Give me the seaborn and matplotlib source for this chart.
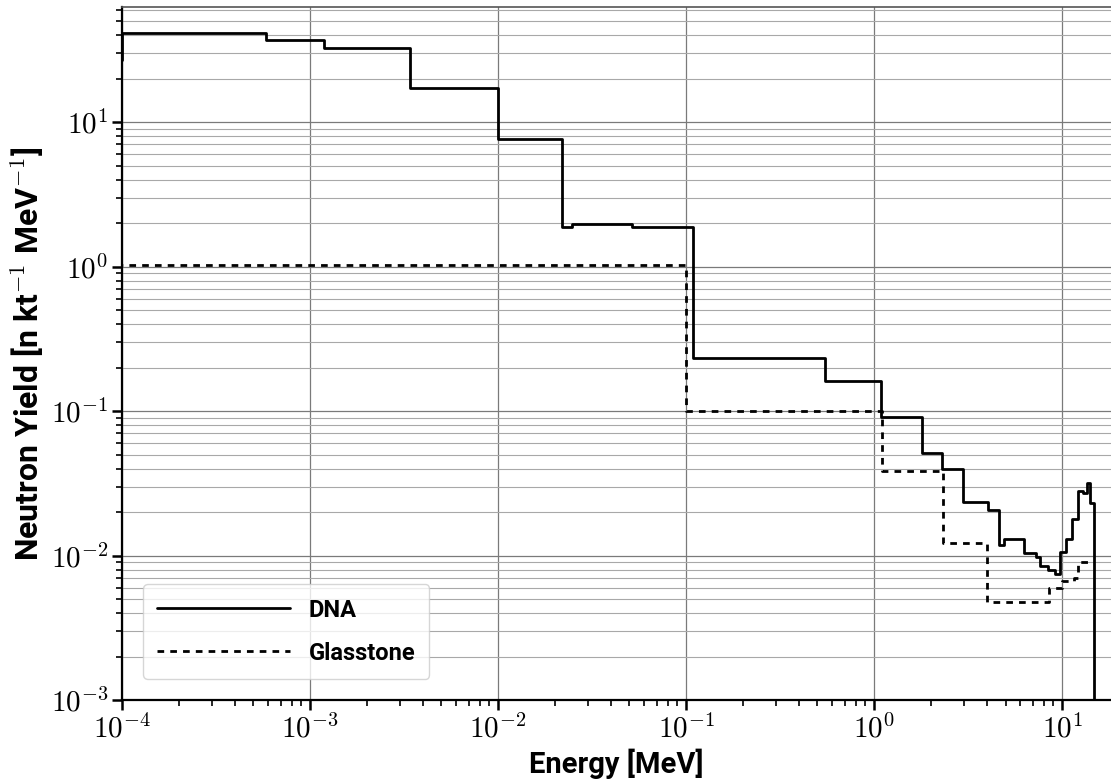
import numpy as np
import pandas as pd
import matplotlib
matplotlib.use("Agg")
import matplotlib.pyplot as plt
from matplotlib.ticker import FuncFormatter
import seaborn as sns

# ---- data (step spectra: bin start energy [MeV], yield) ----
dna_energy = [5e-5, 1e-4, 5.8e-4, 1.19e-3, 3.4e-3, 1.0e-2, 2.18e-2, 2.47e-2, 5.18e-2,
              1.087e-1, 5.45e-1, 1.085, 1.79, 2.31, 2.96, 4.05, 4.64, 4.91, 6.28,
              7.28, 7.64, 8.43, 9.19, 9.75, 10.5, 11.3, 12.2, 12.9, 13.6, 14.1, 14.8]
dna_yield = [27.0, 41.5, 36.9, 32.7, 17.2, 7.66, 1.88, 1.97, 1.88,
             0.232, 0.161, 0.0914, 0.0515, 0.0395, 0.0234, 0.0205, 0.0119, 0.0130, 0.01045,
             0.0098, 0.0085, 0.0080, 0.0075, 0.0105, 0.013, 0.018, 0.028, 0.027, 0.032, 0.023, 1e-6]

gl_energy = [5e-5, 0.0998, 1.098, 2.32, 3.97, 8.5, 10.0, 11.5, 12.2, 14.8]
gl_yield = [1.02, 0.1005, 0.0383, 0.0123, 0.00479, 0.0060, 0.0067, 0.0070, 0.0090, 0.0090]

series_labels = ["DNA", "Glasstone"]
x_label = "Energy [MeV]"
y_label = r"Neutron Yield [n kt$^{-1}$ MeV$^{-1}$]"

sns.set_style("ticks")
plt.rcParams["mathtext.fontset"] = "cm"
plt.rcParams["font.family"] = ["Roboto", "DejaVu Sans"]
plt.rcParams["text.color"] = "black"
plt.rcParams["axes.labelcolor"] = "black"

fig = plt.figure(figsize=(11.11, 7.81), dpi=100)
ax = fig.add_axes([122 / 1111, 1 - 700 / 781, 1 - 122 / 1111, (700 - 7) / 781])

df_dna = pd.DataFrame({"E": dna_energy, "Y": dna_yield})
df_gl = pd.DataFrame({"E": gl_energy, "Y": gl_yield})

sns.lineplot(data=df_dna, x="E", y="Y", ax=ax, color="black", linewidth=2.0,
             drawstyle="steps-post", estimator=None, sort=False, label=series_labels[0])
sns.lineplot(data=df_gl, x="E", y="Y", ax=ax, color="black", linewidth=2.0,
             drawstyle="steps-post", estimator=None, sort=False, label=series_labels[1],
             linestyle=(0, (2.4, 2.2)))

ax.set_xscale("log")
ax.set_yscale("log")
ax.set_xlim(1e-4, 18.2)
ax.set_ylim(1e-3, 62.5)

fmt = FuncFormatter(lambda v, p: r"$10^{%d}$" % int(round(np.log10(v))))
ax.xaxis.set_major_formatter(fmt)
ax.yaxis.set_major_formatter(fmt)

ax.grid(True, which="major", axis="both", color="#7a7a7a", linewidth=0.9)
ax.grid(True, which="minor", axis="y", color="#a8a8a8", linewidth=0.8)
ax.set_axisbelow(True)

ax.tick_params(axis="both", which="major", direction="out", length=7, width=1.8,
               labelsize=21, colors="black")
ax.tick_params(axis="both", which="minor", direction="out", length=4, width=1.4)
ax.tick_params(axis="x", pad=3)
ax.tick_params(axis="y", pad=3)

for s in ["left", "bottom"]:
    ax.spines[s].set_color("black")
    ax.spines[s].set_linewidth(1.6)
ax.spines["top"].set_color("#555555")
ax.spines["top"].set_linewidth(1.2)
ax.spines["right"].set_visible(False)

ax.set_xlabel(x_label, fontsize=21, fontweight="bold", labelpad=4)
ax.set_ylabel(y_label, fontsize=23, fontweight="bold", labelpad=3)

leg = ax.legend(loc="lower left", handlelength=5.6, handletextpad=0.8,
                borderpad=0.6, labelspacing=0.85, borderaxespad=0.9, fancybox=True,
                framealpha=0.8, edgecolor="#cccccc", prop={"weight": "bold", "size": 17})
for t in leg.get_texts():
    t.set_color("black")

fig.savefig("out.png", dpi=100)
